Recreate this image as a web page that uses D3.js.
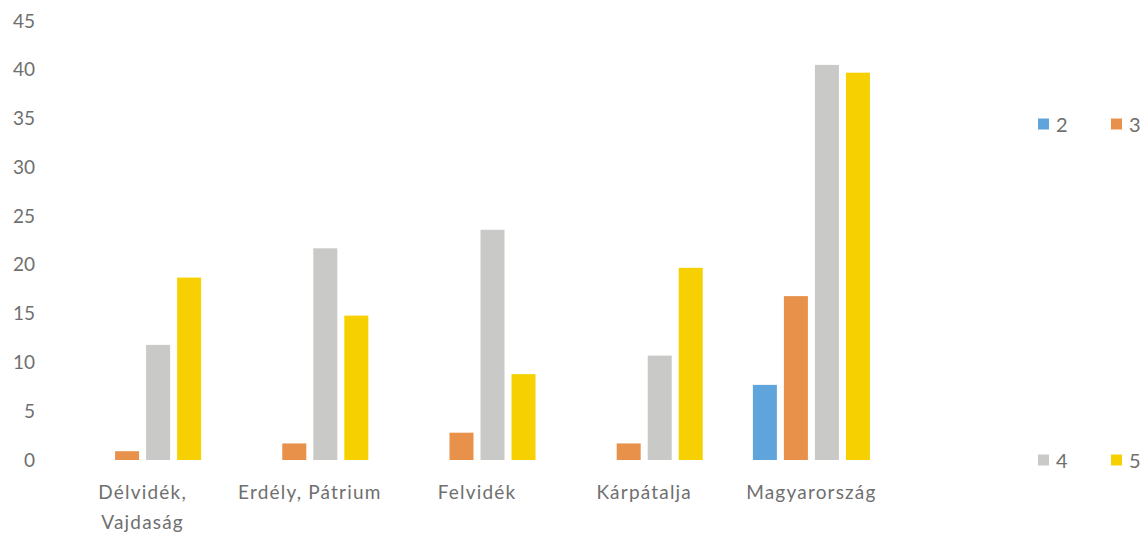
<!DOCTYPE html>
<html><head><meta charset="utf-8">
<script src="https://cdn.jsdelivr.net/npm/d3@7"></script>
<style>
html,body{margin:0;padding:0;background:#fff;}
svg{display:block;font-family:Lato,"Open Sans",sans-serif;}
</style></head>
<body><svg id="c" width="1144" height="535"></svg>
<script>
const categories = [["Délvidék,","Vajdaság"],["Erdély, Pátrium"],["Felvidék"],["Kárpátalja"],["Magyarország"]];
const seriesNames = ["2","3","4","5"];
const s2 = [0, 0, 0, 0, 7.7];
const s3 = [0.9, 1.7, 2.8, 1.7, 16.8];
const s4 = [11.8, 21.7, 23.6, 10.7, 40.5];
const s5 = [18.7, 14.8, 8.8, 19.7, 39.7];
const yTicks = [0,5,10,15,20,25,30,35,40,45];
const colors = ["#5fa5dc","#e8914a","#c9c9c7","#f6d000"];

const series = [s2,s3,s4,s5];
const svg = d3.select("#c");
const textColor = "#6f6f6f";
const y = d3.scaleLinear().domain([0,45]).range([460,21]);
const x0 = d3.scaleBand().domain(d3.range(categories.length)).range([59,895]).paddingInner(0.30).paddingOuter(0.15);
const x1 = d3.scaleBand().domain(d3.range(seriesNames.length)).range([0,x0.bandwidth()]).paddingInner(0.226);

// y axis labels
const ya = svg.append("g").attr("transform","translate(35,0)")
  .call(d3.axisLeft(y).tickValues(yTicks).tickSize(0).tickPadding(0));
ya.select(".domain").remove();
ya.selectAll("text").attr("fill",textColor).style("font-size","19px").style("font-family","Lato,'Open Sans',sans-serif");

// bars
const g = svg.append("g");
categories.forEach((c,i)=>{
  series.forEach((s,j)=>{
    if(s[i] > 0){
      g.append("rect")
        .attr("x", x0(i)+x1(j))
        .attr("width", x1.bandwidth())
        .attr("y", y(s[i]))
        .attr("height", y(0)-y(s[i]))
        .attr("fill", colors[j]);
    }
  });
});

// x labels
categories.forEach((c,i)=>{
  const cx = x0(i)+x0.bandwidth()/2;
  const t = svg.append("text")
    .attr("x", cx)
    .attr("y", 499)
    .attr("text-anchor","middle")
    .attr("fill",textColor)
    .style("font-size","19px")
    .style("letter-spacing","1.2px");
  c.forEach((line,k)=>{
    t.append("tspan").attr("x", cx).attr("dy", k===0?0:30).text(line);
  });
});

// legend
const legPos = [[1038,124],[1111,124],[1038,460],[1111,460]];
seriesNames.forEach((n,j)=>{
  const lg = svg.append("g").attr("transform",`translate(${legPos[j][0]},${legPos[j][1]})`);
  lg.append("rect").attr("x",0).attr("y",-5.5).attr("width",11).attr("height",11).attr("fill",colors[j]);
  lg.append("text").attr("x",18).attr("y",7.5).attr("fill",textColor).style("font-size","20px").text(n);
});
</script>
</body></html>
